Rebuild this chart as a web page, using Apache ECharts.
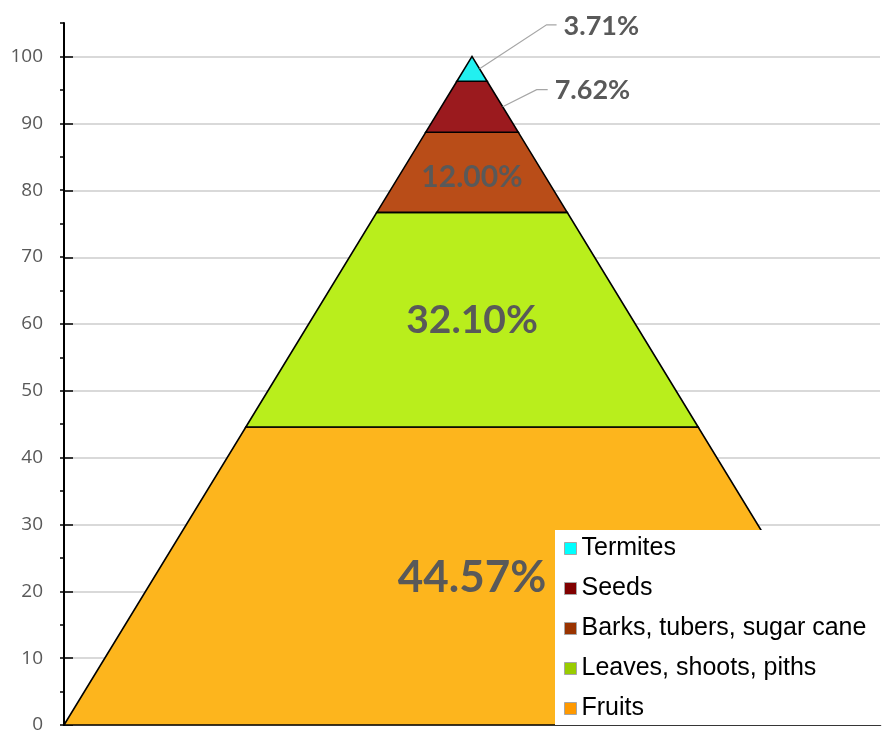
<!DOCTYPE html>
<html>
<head>
<meta charset="utf-8">
<script src="https://cdn.jsdelivr.net/npm/echarts@6/dist/echarts.min.js"></script>
<style>html,body{margin:0;padding:0;background:#fff}#c{width:882px;height:740px}</style>
</head>
<body>
<div id="c"></div>
<script>
// Data (bottom layer first)
const categories = ['Fruits', 'Leaves, shoots, piths', 'Barks, tubers, sugar cane', 'Seeds', 'Termites'];
const values = [44.57, 32.10, 12.00, 7.62, 3.71];
const legendOrder = ['Termites', 'Seeds', 'Barks, tubers, sugar cane', 'Leaves, shoots, piths', 'Fruits'];
const yMin = 0, yMax = 105, yTickStep = 5, yLabelStep = 10, gridMax = 100;

// Styles
const fillColors = ['#FDB51D', '#B9EE1C', '#B94D18', '#9B1A1E', '#22F0F0'];
const legendColors = ['#FF9900', '#99CC00', '#993300', '#800000', '#00FFFF'];
const labelSizes = [44, 39, 30, 27, 27];
const labelDy = [2, 1, 5, 0, 0];
// leader lines: [elbow dx, elbow dy, tail length] or null
const leaders = [null, null, null, [34, -17, 11], [67, -44, 10]];

const chart = echarts.init(document.getElementById('c'), null, {renderer: 'canvas'});

let cum = 0;
const layers = values.map(v => { const lo = cum; cum += v; return [lo, Math.min(cum, 100)]; });

const series = categories.map((name, i) => ({
  type: 'custom',
  name: name,
  coordinateSystem: 'cartesian2d',
  xAxisIndex: 0,
  yAxisIndex: 0,
  z: 5,
  data: [[layers[i][0], layers[i][1], i]],
  renderItem: function (params, api) {
    const lo = api.value(0), hi = api.value(1), k = api.value(2);
    const hw = v => 1 - v / 100;
    const pts = [
      api.coord([-hw(lo), lo]), api.coord([hw(lo), lo]),
      api.coord([hw(hi), hi]), api.coord([-hw(hi), hi])
    ];
    const children = [{
      type: 'polygon',
      shape: {points: pts},
      style: {fill: fillColors[k], stroke: '#000', lineWidth: 1.6, lineJoin: 'miter'}
    }];
    const mid = (lo + hi) / 2;
    const label = values[k].toFixed(2) + '%';
    const font = 'bold ' + labelSizes[k] + 'px Lato, "Open Sans", sans-serif';
    if (leaders[k]) {
      const s = api.coord([hw(mid), mid]);
      const L = leaders[k];
      const e = [s[0] + L[0], s[1] + L[1]];
      const t = [e[0] + L[2], e[1]];
      children.push({
        type: 'polyline',
        shape: {points: [s, e, t]},
        style: {stroke: '#A6A6A6', lineWidth: 1.2, fill: null}
      });
      children.push({
        type: 'text',
        style: {text: label, x: t[0] + 7, y: t[1] + 1, align: 'left', verticalAlign: 'middle', font: font, fill: '#595959'}
      });
    } else {
      const c = api.coord([0, mid]);
      children.push({
        type: 'text',
        style: {text: label, x: c[0], y: c[1] + labelDy[k], align: 'center', verticalAlign: 'middle', font: font, fill: '#595959'}
      });
    }
    return {type: 'group', children: children};
  }
}));

const option = {
  backgroundColor: '#fff',
  animation: false,
  grid: [
    {left: 64, right: 2, top: 23, bottom: 15},
    {left: 64, right: 2, top: 57, bottom: 15}
  ],
  xAxis: [
    {type: 'value', gridIndex: 0, min: -1, max: 1, show: false, axisLine: {onZero: false}},
    {type: 'value', gridIndex: 1, min: -1, max: 1, show: false, axisLine: {onZero: false}}
  ],
  yAxis: [
    {
      type: 'value', gridIndex: 0, min: yMin, max: yMax, interval: yTickStep, position: 'left',
      axisLine: {show: true, onZero: false, lineStyle: {color: '#000', width: 2}},
      axisTick: {show: true, inside: false, length: 4, lineStyle: {color: '#000', width: 1.5}},
      axisLabel: {
        margin: 21, color: '#595959', fontSize: 19, fontFamily: '"Open Sans", sans-serif',
        formatter: v => (v % yLabelStep === 0 && v <= gridMax) ? String(v) : ''
      },
      splitLine: {show: false},
      z: 6
    },
    {
      type: 'value', gridIndex: 1, min: yMin, max: gridMax, interval: yLabelStep, position: 'left',
      axisLine: {show: false, onZero: false},
      axisTick: {show: true, inside: true, length: 9, lineStyle: {color: '#000', width: 1.5}},
      axisLabel: {show: false},
      splitLine: {show: true, lineStyle: {color: '#D9D9D9', width: 2}},
      z: 1
    }
  ],
  legend: {
    orient: 'vertical',
    left: 555,
    top: 530,
    backgroundColor: '#fff',
    padding: [6, 20, 4, 9],
    itemGap: 15,
    itemWidth: 12,
    itemHeight: 12,
    icon: 'rect',
    selectedMode: false,
    z: 10,
    textStyle: {fontSize: 25, lineHeight: 25, color: '#000', fontFamily: '"Liberation Sans", Arial, sans-serif'},
    data: legendOrder.map(n => {
      const i = categories.indexOf(n);
      return {name: n, itemStyle: {color: legendColors[i], borderColor: '#A6A6A6', borderWidth: 1}};
    })
  },
  series: series
};
chart.setOption(option);
</script>
</body>
</html>
